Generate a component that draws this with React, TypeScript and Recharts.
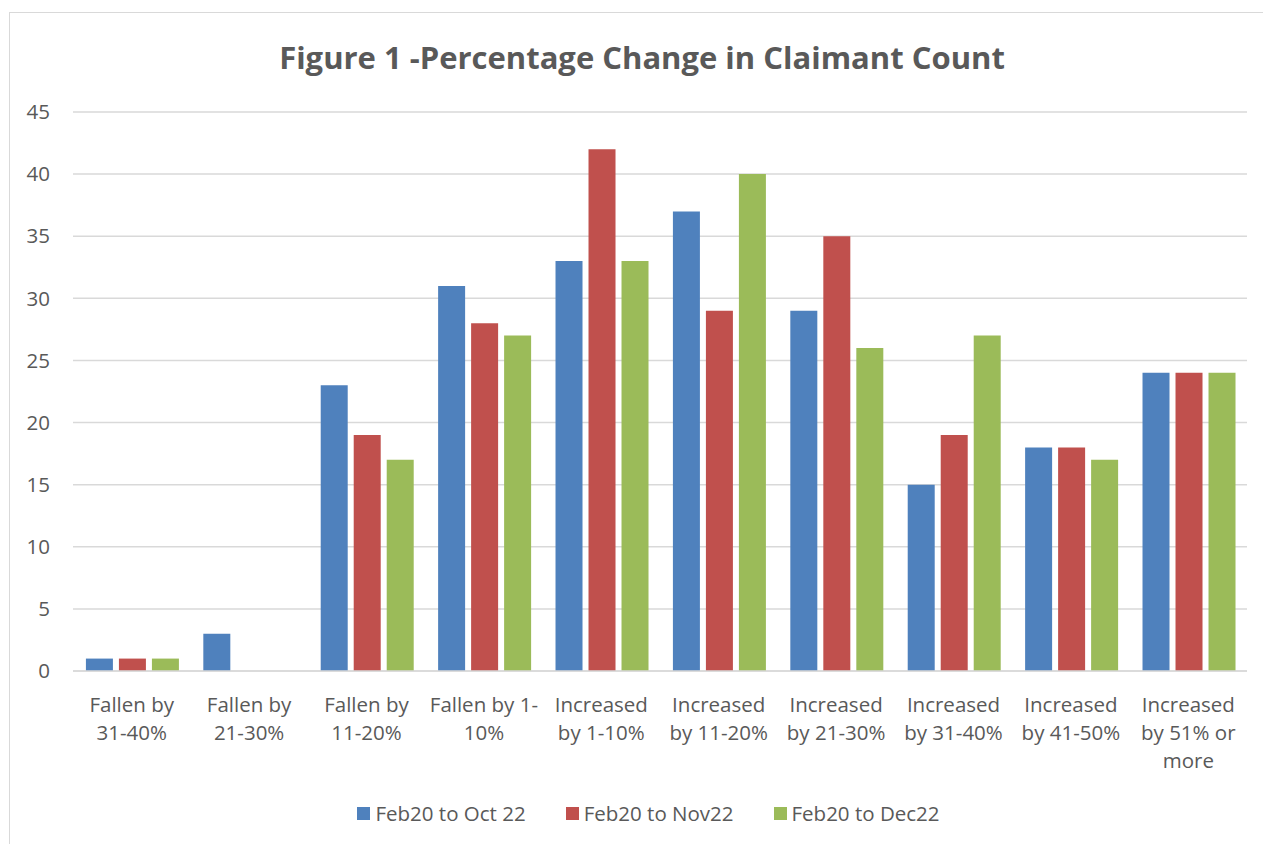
import { BarChart, Bar, XAxis, YAxis, CartesianGrid, Legend } from 'recharts'

const categories = [
  'Fallen by\n31-40%',
  'Fallen by\n21-30%',
  'Fallen by\n11-20%',
  'Fallen by 1-\n10%',
  'Increased\nby 1-10%',
  'Increased\nby 11-20%',
  'Increased\nby 21-30%',
  'Increased\nby 31-40%',
  'Increased\nby 41-50%',
  'Increased\nby 51% or\nmore',
]

const octValues = [1, 3, 23, 31, 33, 37, 29, 15, 18, 24]
const novValues = [1, 0, 19, 28, 42, 29, 35, 19, 18, 24]
const decValues = [1, 0, 17, 27, 33, 40, 26, 27, 17, 24]

const yTicks = [0, 5, 10, 15, 20, 25, 30, 35, 40, 45]

const seriesNames = ['Feb20 to Oct 22', 'Feb20 to Nov22', 'Feb20 to Dec22']

const data = categories.map((name, i) => ({
  name,
  oct: octValues[i],
  nov: novValues[i],
  dec: decValues[i],
}))

const FONT = '"Open Sans", sans-serif'
const TEXT = '#595959'

function CategoryTick({ x, y, payload }: any) {
  const lines = String(payload.value).split('\n')
  return (
    <text x={x} y={y + 41} textAnchor="middle" fill={TEXT} fontSize={20.5} fontFamily={FONT}>
      {lines.map((line: string, i: number) => (
        <tspan key={i} x={x} dy={i === 0 ? 0 : 28}>
          {line}
        </tspan>
      ))}
    </text>
  )
}

function LegendRow({ payload }: any) {
  // keep series order, not alphabetical
  const items = [...payload].sort((a: any, b: any) => seriesNames.indexOf(a.value) - seriesNames.indexOf(b.value))
  return (
    <div style={{ display: 'flex', justifyContent: 'center', gap: 40, fontFamily: FONT, fontSize: 20.5, color: TEXT, height: 24, alignItems: 'center', paddingLeft: 40 }}>
      {items.map((entry: any) => (
        <div key={entry.value} style={{ display: 'flex', alignItems: 'center', gap: 5 }}>
          <div style={{ width: 13, height: 13, backgroundColor: entry.color }}></div>
          <span>{entry.value}</span>
        </div>
      ))}
    </div>
  )
}

export default function App() {
  return (
    <div style={{ position: 'absolute', left: 0, top: 0, width: 1263, height: 844, overflow: 'hidden', background: '#fff' }}>
      <div style={{ position: 'absolute', left: 9, top: 12, width: 1270, height: 850, border: '1px solid #d9d9d9', boxSizing: 'border-box' }}>
        <div
          style={{
            position: 'absolute',
            left: 0,
            width: 1264,
            top: 23,
            textAlign: 'center',
            fontFamily: FONT,
            fontWeight: 700,
            fontSize: 31,
            color: TEXT,
          }}
        >
          Figure 1 -Percentage Change in Claimant Count
        </div>
        <div style={{ position: 'absolute', left: 0, top: 0 }}>
          <BarChart
            width={1253}
            height={831}
            data={data}
            margin={{ top: 99, right: 16, left: 0, bottom: 19 }}
            barCategoryGap="11%"
            barGap={6}
          >
            <CartesianGrid vertical={false} stroke="#d9d9d9" strokeWidth={1.5} />
            <XAxis
              dataKey="name"
              height={130}
              axisLine={{ stroke: '#d9d9d9', strokeWidth: 1.5 }}
              tickLine={false}
              tickSize={0}
              tickMargin={0}
              interval={0}
              tick={<CategoryTick />}
            />
            <YAxis
              width={63}
              domain={[0, 45]}
              ticks={yTicks}
              axisLine={false}
              tickLine={false}
              tickSize={0}
              tickMargin={23}
              tick={{ fill: TEXT, fontSize: 20.5, fontFamily: FONT }}
            />
            <Legend verticalAlign="bottom" height={24} content={<LegendRow />} />
            <Bar dataKey="oct" name={seriesNames[0]} fill="#4f81bd" isAnimationActive={false} />
            <Bar dataKey="nov" name={seriesNames[1]} fill="#c0504d" isAnimationActive={false} />
            <Bar dataKey="dec" name={seriesNames[2]} fill="#9bbb59" isAnimationActive={false} />
          </BarChart>
        </div>
      </div>
    </div>
  )
}
